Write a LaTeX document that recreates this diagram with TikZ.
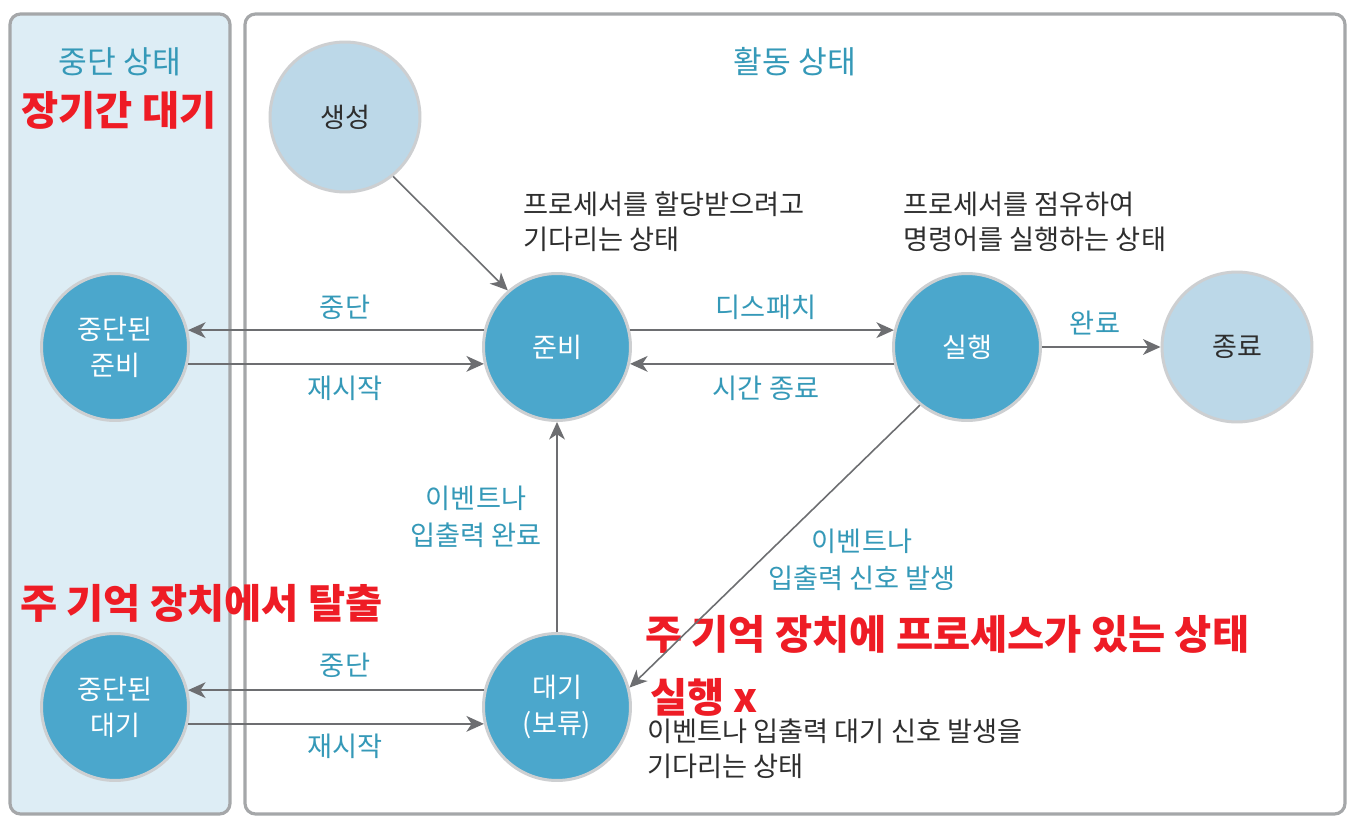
\documentclass[tikz,border=0pt]{standalone}
\usepackage{fontspec}
\setmainfont{Noto Sans CJK KR}
\usetikzlibrary{arrows.meta}
\definecolor{nodeblue}{HTML}{4BA7CC}
\definecolor{lightnode}{HTML}{BCD8E8}
\definecolor{ringgray}{HTML}{CDCFD1}
\definecolor{panelfill}{HTML}{DDEDF5}
\definecolor{panelline}{HTML}{A5A7A9}
\definecolor{arrowgray}{HTML}{6D6E71}
\definecolor{labelteal}{HTML}{3599B8}
\definecolor{textdark}{HTML}{2E2E2E}
\definecolor{redtext}{HTML}{EE1C25}
\tikzset{
  panel/.style={draw=panelline, line width=1.8pt, rounded corners=6pt},
  state/.style={circle, minimum size=2.94cm, inner sep=0pt, fill=nodeblue, draw=ringgray, line width=1.7pt, text=white, align=center, font=\fontsize{15.4}{20.4}\selectfont},
  lstate/.style={state, minimum size=3cm, fill=lightnode, text=textdark},
  arr/.style={draw=arrowgray, line width=0.9pt, -{Stealth[length=10pt,width=9pt,inset=3pt]}},
  lab/.style={text=labelteal, font=\fontsize{15.5}{21}\selectfont, align=center, inner sep=0pt},
  head/.style={text=labelteal, font=\fontsize{17.8}{20}\selectfont, inner sep=0pt},
  desc/.style={text=textdark, font=\fontsize{15.5}{19.8}\selectfont, align=left, anchor=west, inner sep=0pt},
  redlab/.style={text=redtext, font=\bfseries\fontsize{23}{24}\selectfont, anchor=west, inner sep=0pt}
}
\begin{document}
\begin{tikzpicture}[x=0.02cm, y=-0.02cm]
\useasboundingbox (0,0) rectangle (1363,831);
% panels
\draw[panel, fill=panelfill] (10,14) rectangle (230,814);
\draw[panel, fill=white] (245,14) rectangle (1345,814);
% headers
\node[head] (hleft) at (120,62) {중단 상태};
\node[head] (hright) at (795,62) {활동 상태};
\node[redlab, anchor=center] (longwait) at (119,110) {장기간 대기};
% states
\node[lstate] (create) at (345,117) {생성};
\node[state] (ready) at (557,347) {준비};
\node[state] (run) at (967,347) {실행};
\node[lstate] (term) at (1237,347) {종료};
\node[state] (sready) at (115,347) {중단된\\준비};
\node[state] (swait) at (115,707) {중단된\\대기};
\node[state] (wait) at (557,707) {대기\\(보류)};
% descriptions
\node[desc] (dready) at (523,222) {프로세서를 할당받으려고\\기다리는 상태};
\node[desc] (drun) at (903,222) {프로세서를 점유하여\\명령어를 실행하는 상태};
\node[desc] (dwait) at (647,749) {이벤트나 입출력 대기 신호 발생을\\기다리는 상태};
% red annotations
\node[redlab] (rout) at (20,603) {주 기억 장치에서 탈출};
\node[redlab] (rin) at (645,634) {주 기억 장치에 프로세스가 있는 상태};
\node[redlab] (rnorun) at (650,697) {실행 x};
% arrows
\draw[arr] (create.-51.5) -- (ready.131.4);
\draw[arr] (ready.167) -- (sready.13);
\draw[arr] (sready.-13) -- (ready.193);
\draw[arr] (ready.13) -- (run.167);
\draw[arr] (run.193) -- (ready.-13);
\draw[arr] (run.east) -- (term.west);
\draw[arr] (wait.north) -- (ready.south);
\draw[arr] (run.231) -- (wait.15);
\draw[arr] (wait.167) -- (swait.13);
\draw[arr] (swait.-13) -- (wait.193);
% labels
\node[lab] (l1) at (345,307) {중단};
\node[lab] (l2) at (345,388) {재시작};
\node[lab] (l3) at (766,307) {디스패치};
\node[lab] (l4) at (766,388) {시간 종료};
\node[lab] (l5) at (1095,323) {완료};
\node[lab] (l6) at (476,517) {이벤트나\\입출력 완료};
\node[lab] (l7) at (862,560) {이벤트나\\입출력 신호 발생};
\node[lab] (l8) at (345,665) {중단};
\node[lab] (l9) at (345,746) {재시작};
\end{tikzpicture}
\end{document}
